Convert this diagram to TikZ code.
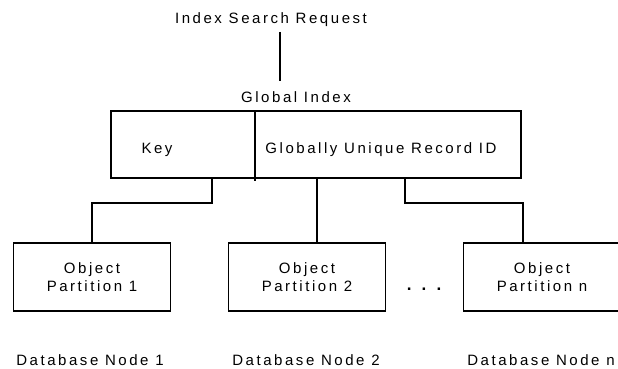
\documentclass[tikz,border=0pt]{standalone}
\usepackage{fontspec}
\setmainfont{Liberation Sans}[LetterSpace=17]
\usetikzlibrary{positioning}
\tikzset{
  part/.style={rectangle,draw=black,line width=1.2pt,minimum width=157pt,minimum height=68pt,align=center,inner sep=0pt,font=\fontsize{15}{18}\selectfont},
  lbl/.style={anchor=base,inner sep=0pt,font=\fontsize{15}{17}\selectfont},
  wire/.style={draw=black,line width=1.2pt}
}

\begin{document}
\begin{tikzpicture}[x=1pt,y=-1pt]
\useasboundingbox (0,0) rectangle (618,369);
\node[lbl] (req) at (271,24) {Index Search Request};
\node[lbl] (gilbl) at (296,102) {Global Index};
\node[rectangle,draw=black,line width=1.2pt,minimum width=410pt,minimum height=67pt,inner sep=0pt] (gidx) at (316,144.5) {};
\node[lbl] (key) at (157,153) {Key};
\node[lbl] (guid) at (381,153) {Globally Unique Record ID};
\node[part] (part1) at (92,277) {Object\\Partition 1};
\node[part] (part2) at (307,277) {Object\\Partition 2};
\node[part] (partn) at (542,277) {Object\\Partition n};
\node[lbl,font=\fontsize{17}{17}\selectfont\bfseries] (dots) at (424,290) {. . .};
\node[lbl] (db1) at (90,365) {Database Node 1};
\node[lbl] (db2) at (306,365) {Database Node 2};
\node[lbl] (dbn) at (541,365) {Database Node n};
% request line and key / id divider
\coordinate (rqa) at (280,32);
\coordinate (rqb) at (280,81);
\path[wire] (rqa) -- (rqb);
\path[wire] (gidx.north -| 255,0) -- (255,181);
% index to partitions
\path[wire] (gidx.south -| 212,0) -- (212,203) -| (part1.north);
\path[wire] (gidx.south -| 317,0) -- (part2.north -| 317,0);
\path[wire] (gidx.south -| 405,0) -- (405,203) -| (partn.north -| 523,0);
\end{tikzpicture}
\end{document}
